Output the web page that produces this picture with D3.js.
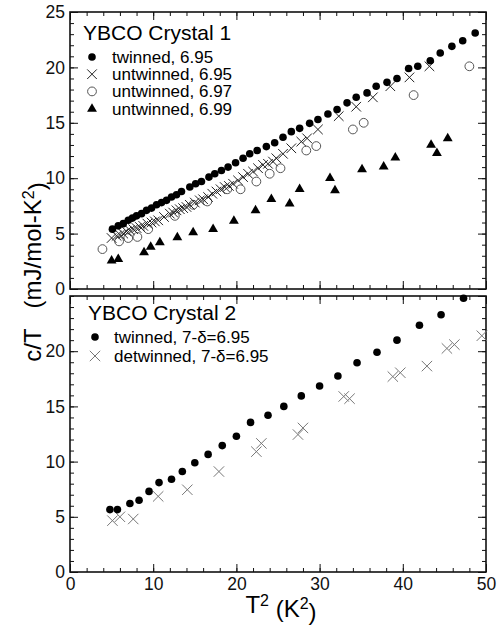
<!DOCTYPE html>
<html>
<head>
<meta charset="utf-8">
<script src="https://cdn.jsdelivr.net/npm/d3@7"></script>
<style>
body { margin:0; background:#fff; }
text { font-family:"Liberation Sans", Arial, sans-serif; }
</style>
</head>
<body>
<svg id="chart" width="500" height="629"></svg>
<script>

// crystal 1, twinned 6.95 (filled dots)
var c1_tw95_x=[5.1,5.8,6.4,7.0,7.5,8.0,8.6,9.2,9.8,10.4,11.0,11.6,12.2,12.8,13.4,14.4,15.1,15.8,16.7,17.4,18.2,19.0,19.9,20.8,21.6,22.5,23.6,24.6,25.6,26.6,27.6,28.8,29.8,31.0,32.1,33.3,34.4,35.7,36.8,38.1,39.3,40.7,41.8,43.3,44.5,45.9,47.2,48.7];
var c1_tw95_y=[5.4,5.7,5.9,6.2,6.4,6.6,6.8,7.1,7.3,7.6,7.8,8.0,8.3,8.5,8.8,9.2,9.5,9.7,10.1,10.4,10.7,11.0,11.4,11.8,12.2,12.5,12.85,13.2,13.7,14.2,14.5,14.95,15.3,15.8,16.2,16.8,17.3,17.7,18.3,18.65,19.0,19.9,20.1,20.6,21.3,21.9,22.4,23.1];

// crystal 1, untwinned 6.95 (crosses)
var c1_un95_x=[5.0,5.6,6.0,6.4,6.8,7.2,7.6,8.0,8.4,8.8,9.3,9.8,10.2,10.6,11.3,12.0,12.4,12.8,13.2,13.6,14.0,14.4,15.0,15.6,16.0,16.6,17.1,17.6,18.1,18.6,19.1,19.6,20.2,20.8,21.4,22.0,22.6,23.2,23.8,24.4,24.8,25.6,26.6,27.8,28.5,29.8,32.3,34.4,36.4,38.5,40.8,43.2];
var c1_un95_y=[4.6,4.8,4.9,5.0,5.2,5.3,5.4,5.5,5.6,5.7,5.9,6.0,6.1,6.2,6.5,6.8,6.9,7.1,7.2,7.3,7.4,7.6,7.8,8.0,8.1,8.3,8.6,8.8,9.0,9.2,9.3,9.5,9.8,10.1,10.4,10.6,10.9,11.2,11.3,11.5,11.8,12.2,12.7,13.3,13.6,14.4,15.6,16.45,17.3,18.3,19.1,20.1];

// crystal 1, untwinned 6.97 (open circles)
var c1_un97_x=[3.9,5.9,7.0,8.1,9.4,12.6,14.8,16.5,18.9,20.5,22.4,24.0,25.3,28.4,29.6,34.0,35.3,41.3,48.0];
var c1_un97_y=[3.6,4.3,4.6,4.7,5.4,6.6,7.6,7.9,9.0,9.0,9.7,10.4,10.9,12.5,12.9,14.4,15.0,17.5,20.1];

// crystal 1, untwinned 6.99 (filled triangles)
var c1_un99_x=[5.0,5.8,8.9,9.7,10.8,12.9,14.8,17.2,19.7,22.3,24.2,26.4,27.6,31.25,31.85,35.1,37.7,39.1,43.4,44.1,45.4];
var c1_un99_y=[2.55,2.7,3.3,3.8,4.2,4.65,5.1,5.4,6.15,7.1,8.1,7.7,9.0,10.0,8.9,10.8,11.05,11.85,13.0,12.25,13.6];

// crystal 2, twinned (filled dots)
var c2_tw_x=[4.8,5.7,7.2,8.3,9.5,10.7,12.2,13.5,15.0,16.6,18.3,20.0,21.7,23.8,25.7,27.8,30.0,32.2,34.5,36.9,39.3,42.0,44.6,47.3];
var c2_tw_y=[5.65,5.65,6.2,6.5,7.3,8.1,8.4,9.1,9.9,10.65,11.45,12.3,13.55,14.2,15.0,15.95,16.85,17.75,18.95,19.9,21.0,22.35,23.3,24.8];

// crystal 2, detwinned (grey crosses)
var c2_dt_x=[5.1,6.0,7.6,10.6,14.1,17.9,22.4,23.0,27.4,28.0,32.9,33.6,38.8,39.7,42.9,45.3,46.2,49.5];
var c2_dt_y=[4.65,5.0,4.8,6.85,7.45,9.1,10.9,11.65,12.45,13.05,15.9,15.7,17.7,18.05,18.65,20.25,20.6,21.4];

var xMajor=[0,10,20,30,40,50];
var xMinor=d3.range(0,51,2);
var yMinor=d3.range(0,26,1);
var top_yticks=[0,5,10,15,20,25];
var bot_yticks=[0,5,10,15,20];

var svg=d3.select("#chart");
var L=70, R=486;

var x=d3.scaleLinear().domain([0,50]).range([L,R]);

var crossPath=function(s) {
	return "M"+(-s)+","+(-s)+"L"+s+","+s+"M"+(-s)+","+s+"L"+s+","+(-s);
	};

var zip=function(xs,ys) {
	return xs.map(function(d,i) { return [d,ys[i]]; });
	};

var drawPanel=function(top,bottom,ylabels,xlabels) {
	var y=d3.scaleLinear().domain([0,25]).range([bottom,top]);
	var g=svg.append("g");

	var tickStyle=function(sel) {
		sel.select(".domain").remove();
		sel.selectAll("line").attr("stroke","#111").attr("stroke-width",1);
		sel.selectAll("text").attr("fill","#111").style("font-size","17.5px").style("font-family","'Liberation Sans', Arial, sans-serif");
		};

	// minor ticks, all four sides
	g.append("g").attr("transform","translate("+L+",0)")
		.call(d3.axisLeft(y).tickValues(yMinor).tickSize(-4).tickFormat("")).call(tickStyle);
	g.append("g").attr("transform","translate("+R+",0)")
		.call(d3.axisRight(y).tickValues(yMinor).tickSize(-4).tickFormat("")).call(tickStyle);
	g.append("g").attr("transform","translate(0,"+bottom+")")
		.call(d3.axisBottom(x).tickValues(xMinor).tickSize(-4).tickFormat("")).call(tickStyle);
	g.append("g").attr("transform","translate(0,"+top+")")
		.call(d3.axisTop(x).tickValues(xMinor).tickSize(-4).tickFormat("")).call(tickStyle);

	// major ticks
	g.append("g").attr("transform","translate("+L+",0)")
		.call(d3.axisLeft(y).tickValues(ylabels).tickSize(-8).tickPadding(5).tickFormat(d3.format("d"))).call(tickStyle);
	g.append("g").attr("transform","translate("+R+",0)")
		.call(d3.axisRight(y).tickValues(top_yticks).tickSize(-8).tickFormat("")).call(tickStyle);
	var xb=d3.axisBottom(x).tickValues(xMajor).tickSize(-8).tickPadding(6);
	if(!xlabels) xb.tickFormat("");
	g.append("g").attr("transform","translate(0,"+bottom+")").call(xb).call(tickStyle);
	g.append("g").attr("transform","translate(0,"+top+")")
		.call(d3.axisTop(x).tickValues(xMajor).tickSize(-8).tickFormat("")).call(tickStyle);

	g.append("rect")
		.attr("x",L).attr("y",top)
		.attr("width",R-L).attr("height",bottom-top)
		.attr("fill","none").attr("stroke","#111").attr("stroke-width",1.6);

	return {g:g, y:y};
	};

var drawDots=function(g,y,xs,ys,r) {
	g.selectAll(null).data(zip(xs,ys)).enter().append("circle")
		.attr("cx",function(d) { return x(d[0]); })
		.attr("cy",function(d) { return y(d[1]); })
		.attr("r",r).attr("fill","#000");
	};
var drawRings=function(g,y,xs,ys) {
	g.selectAll(null).data(zip(xs,ys)).enter().append("circle")
		.attr("cx",function(d) { return x(d[0]); })
		.attr("cy",function(d) { return y(d[1]); })
		.attr("r",4.4).attr("fill","none").attr("stroke","#555").attr("stroke-width",1);
	};
var drawCrosses=function(g,y,xs,ys,s,col) {
	g.selectAll(null).data(zip(xs,ys)).enter().append("path")
		.attr("transform",function(d) { return "translate("+x(d[0])+","+y(d[1])+")"; })
		.attr("d",crossPath(s)).attr("fill","none").attr("stroke",col).attr("stroke-width",1);
	};
var drawTris=function(g,y,xs,ys) {
	g.selectAll(null).data(zip(xs,ys)).enter().append("path")
		.attr("transform",function(d) { return "translate("+x(d[0])+","+y(d[1])+")"; })
		.attr("d",d3.symbol().type(d3.symbolTriangle).size(42)()).attr("fill","#000");
	};

// ---- top panel
var p1=drawPanel(12,289,top_yticks,false);
drawRings(p1.g,p1.y,c1_un97_x,c1_un97_y);
drawCrosses(p1.g,p1.y,c1_un95_x,c1_un95_y,4.8,"#222");
drawTris(p1.g,p1.y,c1_un99_x,c1_un99_y);
drawDots(p1.g,p1.y,c1_tw95_x,c1_tw95_y,3.8);

// ---- bottom panel
var p2=drawPanel(296,572,bot_yticks,true);
drawCrosses(p2.g,p2.y,c2_dt_x,c2_dt_y,5.2,"#777");
drawDots(p2.g,p2.y,c2_tw_x,c2_tw_y,3.8);

// ---- legends
var leg1=svg.append("g");
leg1.append("text").attr("x",83).attr("y",40).style("font-size","21px").text("YBCO Crystal 1");
var leg1_rows=["twinned, 6.95","untwinned, 6.95","untwinned, 6.97","untwinned, 6.99"];
leg1_rows.forEach(function(t,i) {
	var cy=57+i*17.2;
	leg1.append("text").attr("x",112).attr("y",cy+6).style("font-size","17px").text(t);
	});
leg1.append("circle").attr("cx",92).attr("cy",57).attr("r",3.8).attr("fill","#000");
leg1.append("path").attr("transform","translate(92,74.2)").attr("d",crossPath(4.8)).attr("stroke","#222").attr("fill","none");
leg1.append("circle").attr("cx",92).attr("cy",91.4).attr("r",4.4).attr("fill","none").attr("stroke","#555");
leg1.append("path").attr("transform","translate(92,109)").attr("d",d3.symbol().type(d3.symbolTriangle).size(42)()).attr("fill","#000");

var leg2=svg.append("g");
leg2.append("text").attr("x",88).attr("y",320).style("font-size","21px").text("YBCO Crystal 2");
leg2.append("text").attr("x",114).attr("y",343).style("font-size","17px").text("twinned, 7-\u03b4=6.95");
leg2.append("text").attr("x",114).attr("y",362).style("font-size","17px").text("detwinned, 7-\u03b4=6.95");
leg2.append("circle").attr("cx",95).attr("cy",337).attr("r",3.8).attr("fill","#000");
leg2.append("path").attr("transform","translate(95,356)").attr("d",crossPath(5.2)).attr("stroke","#777").attr("fill","none");

// ---- axis titles
var xt=svg.append("text").attr("x",281).attr("y",613).attr("text-anchor","middle").style("font-size","24px");
xt.append("tspan").text("T");
xt.append("tspan").attr("dy","-0.45em").style("font-size","16px").text("2");
xt.append("tspan").attr("dy","0.45em").text(" (K");
xt.append("tspan").attr("dy","-0.45em").style("font-size","16px").text("2");
xt.append("tspan").attr("dy","0.45em").text(")");

var yt=svg.append("text").attr("transform","translate(41,272) rotate(-90)").attr("text-anchor","middle").style("font-size","24px");
yt.append("tspan").text("c/T\u00a0\u00a0\u00a0(mJ/mol-K");
yt.append("tspan").attr("dy","-0.45em").style("font-size","16px").text("2");
yt.append("tspan").attr("dy","0.45em").text(")");

</script>
</body>
</html>
